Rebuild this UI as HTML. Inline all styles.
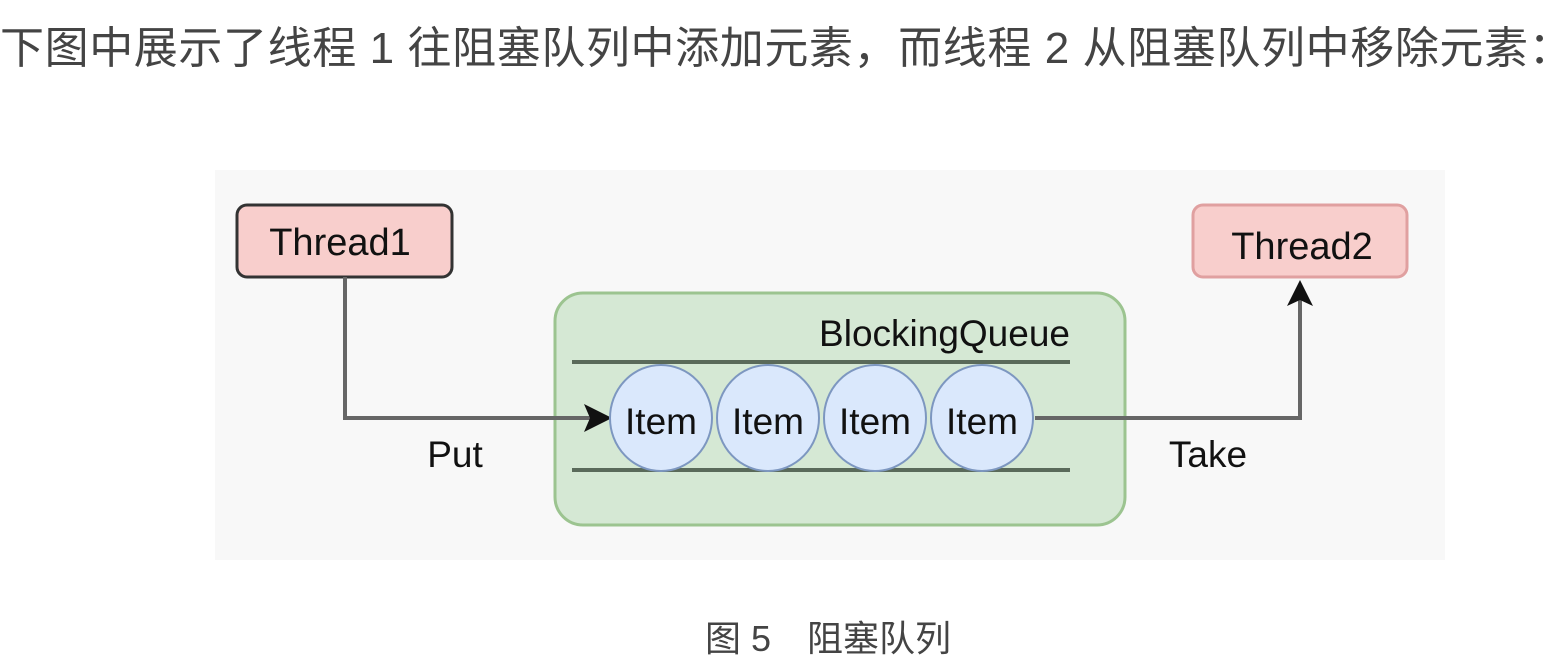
<!DOCTYPE html>
<html><head><meta charset="utf-8"><style>
body{margin:0;width:1557px;height:651px;background:#fff;overflow:hidden;position:relative;font-family:"Liberation Sans","Noto Sans CJK SC",sans-serif;}
.h{position:absolute;left:0;top:12px;font-size:44px;color:#444;white-space:nowrap;letter-spacing:0.6px;}
.c{position:absolute;left:705px;top:610px;font-size:36px;color:#444;white-space:nowrap;}
</style></head><body>
<div class="h">下图中展示了线程 1 往阻塞队列中添加元素，而线程 2 从阻塞队列中移除元素：</div>
<svg style="position:absolute;left:0;top:0" width="1557" height="651">
<rect x="215" y="170" width="1230" height="390" fill="#f8f8f8"/>
<rect x="237" y="205" width="215" height="72" rx="10" fill="#f8cecc" stroke="#333" stroke-width="3"/>
<text x="340" y="255" font-size="38" text-anchor="middle" fill="#111" font-family="Liberation Sans">Thread1</text>
<rect x="1193" y="205" width="214" height="72" rx="10" fill="#f8cecc" stroke="#e0a0a0" stroke-width="3"/>
<text x="1302" y="259" font-size="38" text-anchor="middle" fill="#111" font-family="Liberation Sans">Thread2</text>
<rect x="555" y="293" width="570" height="232" rx="28" fill="#d5e8d4" stroke="#9cc490" stroke-width="3"/>
<text x="1070" y="346" font-size="37" text-anchor="end" fill="#111" font-family="Liberation Sans">BlockingQueue</text>
<line x1="572" y1="362" x2="1070" y2="362" stroke="#5a6a5a" stroke-width="4"/>
<line x1="572" y1="470" x2="1070" y2="470" stroke="#5a6a5a" stroke-width="4"/>
<polyline points="345,277 345,418 595,418" fill="none" stroke="#666" stroke-width="4"/>
<polygon points="612,418 584,404 590,418 584,432" fill="#111"/>
<polyline points="1035,418 1300,418 1300,298" fill="none" stroke="#666" stroke-width="4"/>
<polygon points="1300,280 1287,306 1300,300 1313,306" fill="#111"/>
<g fill="#dae8fc" stroke="#7d97c0" stroke-width="2">
<ellipse cx="661" cy="418" rx="51" ry="53"/>
<ellipse cx="768" cy="418" rx="51" ry="53"/>
<ellipse cx="875" cy="418" rx="51" ry="53"/>
<ellipse cx="982" cy="418" rx="51" ry="53"/>
</g>
<g font-size="37" text-anchor="middle" fill="#111" font-family="Liberation Sans">
<text x="661" y="434">Item</text><text x="768" y="434">Item</text><text x="875" y="434">Item</text><text x="982" y="434">Item</text>
<text x="455" y="467">Put</text><text x="1208" y="467">Take</text>
</g>
</svg>
<div class="c">图 5　阻塞队列</div>
</body></html>
